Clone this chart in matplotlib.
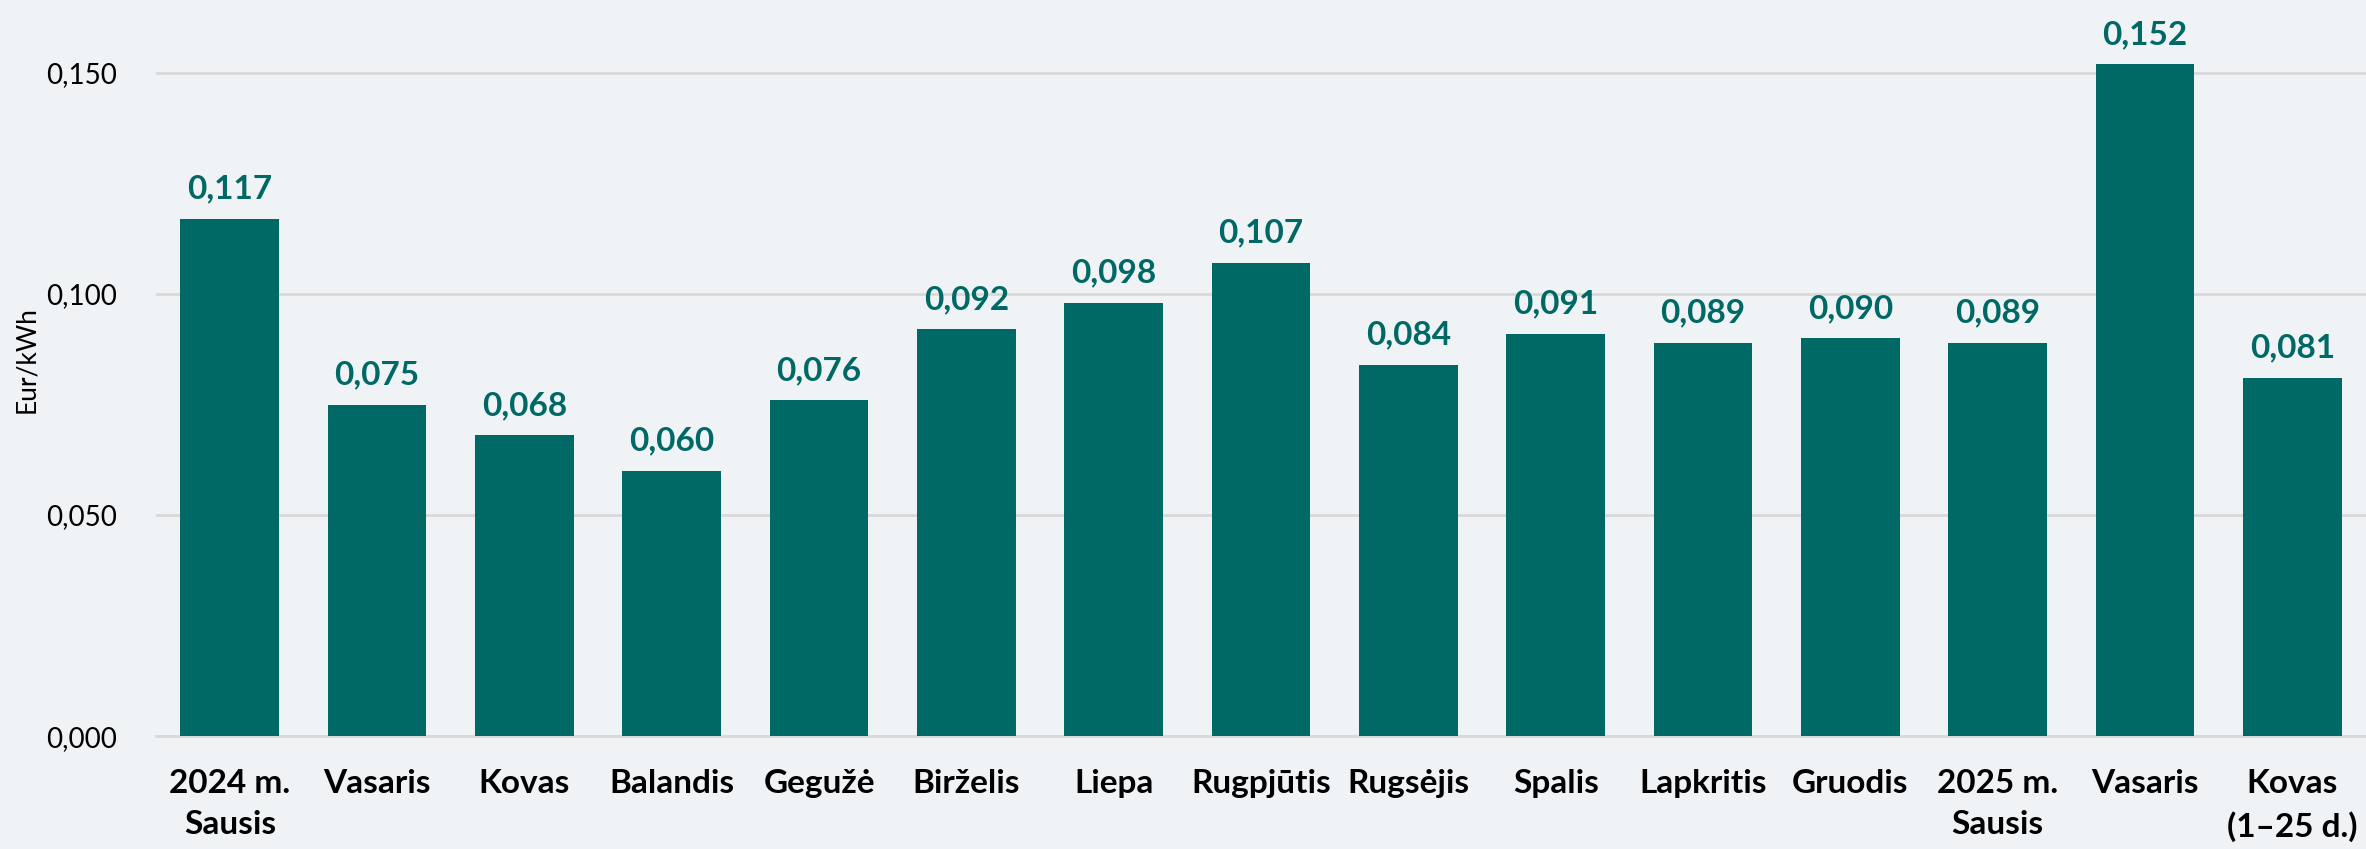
#!/usr/bin/env python

"""
monthly average electricity price bar chart, Eur/kWh
"""

import matplotlib
matplotlib.use('Agg')
import matplotlib.pyplot as plt
import numpy as np

BG = '#eff3f6'
TEAL = '#006865'
GRID = '#d9d9d9'

months = ['2024 m.\nSausis', 'Vasaris', 'Kovas', 'Balandis', 'Gegužė', 'Birželis',
          'Liepa', 'Rugpjūtis', 'Rugsėjis', 'Spalis', 'Lapkritis', 'Gruodis',
          '2025 m.\nSausis', 'Vasaris', 'Kovas\n(1–25 d.)']
prices = [0.117, 0.075, 0.068, 0.060, 0.076, 0.092, 0.098, 0.107,
          0.084, 0.091, 0.089, 0.090, 0.089, 0.152, 0.081]
yticks = [0.0, 0.05, 0.10, 0.15]

plt.rcParams['font.family'] = ['Lato', 'DejaVu Sans']


def main():
    fig = plt.figure(figsize=(23.66, 8.49), dpi=100, facecolor=BG)
    ax = fig.add_axes([0.066, 0.133, 0.934, 0.867], facecolor=BG)

    x = np.arange(len(months))
    ax.bar(x, prices, width=0.67, color=TEAL, zorder=3)

    for xi, v in zip(x, prices):
        ax.annotate(f'{v:.3f}'.replace('.', ','), (xi, v), xytext=(0, 11),
                    textcoords='offset points', ha='center', va='bottom',
                    fontsize=24, fontweight='bold', color=TEAL)

    ax.set_xlim(-0.5, len(months) - 0.5)
    ax.set_ylim(0, 0.1665)
    ax.set_yticks(yticks)
    ax.set_yticklabels([f'{t:.3f}'.replace('.', ',') for t in yticks], fontsize=20)
    ax.set_xticks(x)
    ax.set_xticklabels(months, fontsize=24, fontweight='bold', linespacing=1.5)
    ax.tick_params(axis='both', length=0)
    ax.tick_params(axis='y', pad=28)
    ax.tick_params(axis='x', pad=24)
    ax.yaxis.grid(True, color=GRID, linewidth=2, zorder=0)
    for side in ['top', 'right', 'left']:
        ax.spines[side].set_visible(False)
    ax.spines['bottom'].set_color(GRID)
    ax.spines['bottom'].set_linewidth(2)

    fig.text(0.0114, 0.576, 'Eur/kWh', rotation=90, ha='center', va='center', fontsize=19)

    fig.savefig('out.png', dpi=100, facecolor=BG)


if __name__ == '__main__':
    main()
